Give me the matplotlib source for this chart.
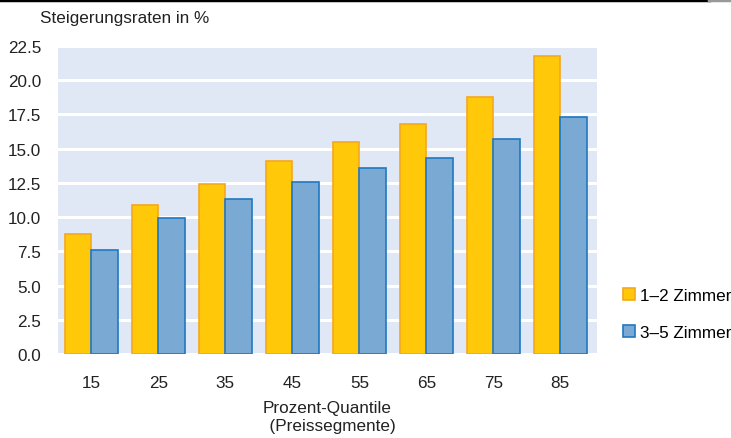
import matplotlib.pyplot as plt
import numpy as np

plt.rcParams['font.family'] = ['Liberation Sans', 'DejaVu Sans']

quantile = ['15', '25', '35', '45', '55', '65', '75', '85']
zimmer_1_2 = [8.8, 10.9, 12.4, 14.1, 15.5, 16.8, 18.8, 21.8]
zimmer_3_5 = [7.6, 9.9, 11.3, 12.6, 13.6, 14.3, 15.7, 17.3]
yticks = [0, 2.5, 5, 7.5, 10, 12.5, 15, 17.5, 20, 22.5]

fs = 12.3
fig = plt.figure(figsize=(7.31, 4.39), dpi=100)
ax = fig.add_axes([0.0793, 0.1913, 0.7374, 0.7017])
ax.set_facecolor('#e1e8f5')

x = np.arange(len(quantile))
w = 0.395
ax.bar(x - w / 2, zimmer_1_2, w, color='#ffc90a', edgecolor='#f5a81c',
       linewidth=1.2, label='1–2 Zimmer', zorder=3)
ax.bar(x + w / 2, zimmer_3_5, w, color='#7aaad4', edgecolor='#1f78c1',
       linewidth=1.2, label='3–5 Zimmer', zorder=3)

ax.set_ylim(0, 22.5)
ax.set_xlim(-0.5, 7.55)
ax.set_yticks(yticks)
ax.set_yticklabels(['%.1f' % v for v in yticks])
ax.set_xticks(x)
ax.set_xticklabels(quantile)
ax.tick_params(length=0, labelsize=fs, colors='#222222')
ax.tick_params(axis='x', pad=15)
ax.tick_params(axis='y', pad=12)
ax.grid(axis='y', color='white', linewidth=2.2, zorder=1)
ax.set_axisbelow(True)
for s in ax.spines.values():
    s.set_visible(False)

ax.set_xlabel('Prozent-Quantile\n  (Preissegmente)', fontsize=fs,
              color='#222222', labelpad=7, linespacing=1.25)
fig.text(0.055, 0.958, 'Steigerungsraten in %', fontsize=fs,
         color='#222222', va='center')

ax.legend(loc='center left', bbox_to_anchor=(1.02, 0.13), frameon=False,
          fontsize=fs, handlelength=0.7, handleheight=0.7,
          handletextpad=0.3, labelspacing=1.25)

# rule across the top edge
fig.add_artist(plt.Line2D([0, 0.97], [0.998, 0.998], color='black',
                          linewidth=2.5, transform=fig.transFigure))
fig.add_artist(plt.Line2D([0.97, 1], [0.998, 0.998], color='#999999',
                          linewidth=2.5, transform=fig.transFigure))

fig.savefig('out.png', dpi=100)
